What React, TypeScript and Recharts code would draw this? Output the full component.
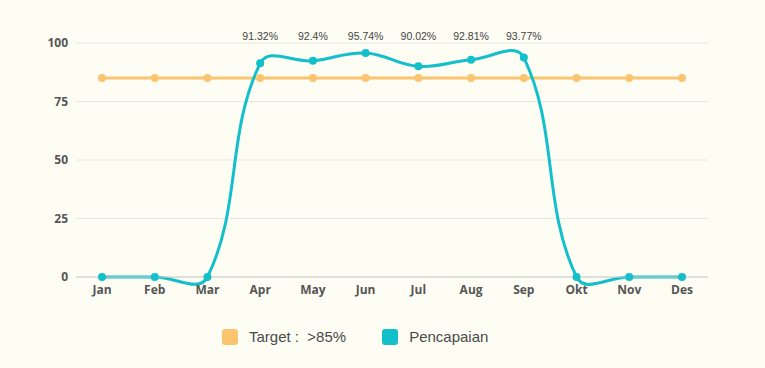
import { LineChart, Line, XAxis, YAxis, CartesianGrid, LabelList } from 'recharts';

const months = ['Jan', 'Feb', 'Mar', 'Apr', 'May', 'Jun', 'Jul', 'Aug', 'Sep', 'Okt', 'Nov', 'Des'];
const target = [85, 85, 85, 85, 85, 85, 85, 85, 85, 85, 85, 85];
const pencapaian = [0, 0, 0, 91.32, 92.4, 95.74, 90.02, 92.81, 93.77, 0, 0, 0];
const yTicks = [0, 25, 50, 75, 100];

const series = [
  { key: 'target', name: 'Target :  >85%', color: '#fcc46e' },
  { key: 'pencapaian', name: 'Pencapaian', color: '#12bfca' },
];

const data = months.map((m, i) => ({ month: m, target: target[i], pencapaian: pencapaian[i] }));

// chart.js style spline (tension 0.4)
const TENSION = 0.4;
function splineCurve(context: any) {
  let pts: number[][] = [];
  return {
    areaStart() {},
    areaEnd() {},
    lineStart() {
      pts = [];
    },
    point(x: number, y: number) {
      pts.push([+x, +y]);
    },
    lineEnd() {
      const n = pts.length;
      if (!n) return;
      context.moveTo(pts[0][0], pts[0][1]);
      if (n === 1) return;
      const cps = pts.map((p, i) => {
        const prev = pts[Math.max(0, i - 1)];
        const next = pts[Math.min(n - 1, i + 1)];
        const d01 = Math.hypot(p[0] - prev[0], p[1] - prev[1]);
        const d12 = Math.hypot(next[0] - p[0], next[1] - p[1]);
        let s01 = d01 / (d01 + d12);
        let s12 = d12 / (d01 + d12);
        if (isNaN(s01)) s01 = 0;
        if (isNaN(s12)) s12 = 0;
        const fa = TENSION * s01;
        const fb = TENSION * s12;
        return {
          px: p[0] - fa * (next[0] - prev[0]),
          py: p[1] - fa * (next[1] - prev[1]),
          nx: p[0] + fb * (next[0] - prev[0]),
          ny: p[1] + fb * (next[1] - prev[1]),
        };
      });
      for (let i = 1; i < n; i++) {
        context.bezierCurveTo(cps[i - 1].nx, cps[i - 1].ny, cps[i].px, cps[i].py, pts[i][0], pts[i][1]);
      }
    },
  };
}

const PercentLabel = (props: any) => {
  const { x, value } = props;
  if (!value) return null;
  return (
    <text x={x} y={40} textAnchor='middle' fontSize={10.5} fill='#444' fontFamily='Liberation Sans, Arial, sans-serif'>
      {value}%
    </text>
  );
};

export default function App() {
  return (
    <div style={{ position: 'fixed', left: 0, top: 0, width: 765, height: 368, background: '#fdfdf4' }}>
      <LineChart width={765} height={368} data={data} margin={{ top: 43, right: 57, bottom: 61, left: 0 }}>
        <CartesianGrid vertical={false} stroke='#e6e6e2' />
        <XAxis
          dataKey='month'
          padding={{ left: 26, right: 26 }}
          tickLine={false}
          axisLine={{ stroke: '#cfcfcb' }}
          tick={{ fill: '#555', fontSize: 12, fontWeight: 700, fontFamily: 'Open Sans' }}
        />
        <YAxis
          width={76}
          domain={[0, 100]}
          ticks={yTicks}
          axisLine={false}
          tickLine={false}
          tick={{ fill: '#555', fontSize: 12, fontWeight: 700, fontFamily: 'Open Sans' }}
        />
        <Line
          dataKey='target'
          name={series[0].name}
          type='linear'
          stroke={series[0].color}
          strokeWidth={3}
          dot={{ r: 4, fill: series[0].color, stroke: series[0].color, strokeWidth: 0 }}
          isAnimationActive={false}
        />
        <Line
          dataKey='pencapaian'
          name={series[1].name}
          type={splineCurve as any}
          stroke={series[1].color}
          strokeWidth={3}
          dot={{ r: 4, fill: series[1].color, stroke: series[1].color, strokeWidth: 0 }}
          isAnimationActive={false}
        >
          <LabelList dataKey='pencapaian' content={PercentLabel} />
        </Line>
      </LineChart>
      <div
        style={{
          position: 'absolute',
          left: 222,
          top: 328,
          display: 'flex',
          alignItems: 'center',
          fontFamily: 'Liberation Sans, Arial, sans-serif',
          fontSize: 15,
          color: '#4a4a4a',
        }}
      >
        {series.map((s) => (
          <div key={s.key} style={{ display: 'flex', alignItems: 'center', marginRight: 36 }}>
            <span style={{ width: 16, height: 16, borderRadius: 3, background: s.color, marginRight: 11 }} />
            <span style={{ whiteSpace: 'pre' }}>{s.name}</span>
          </div>
        ))}
      </div>
    </div>
  );
}
